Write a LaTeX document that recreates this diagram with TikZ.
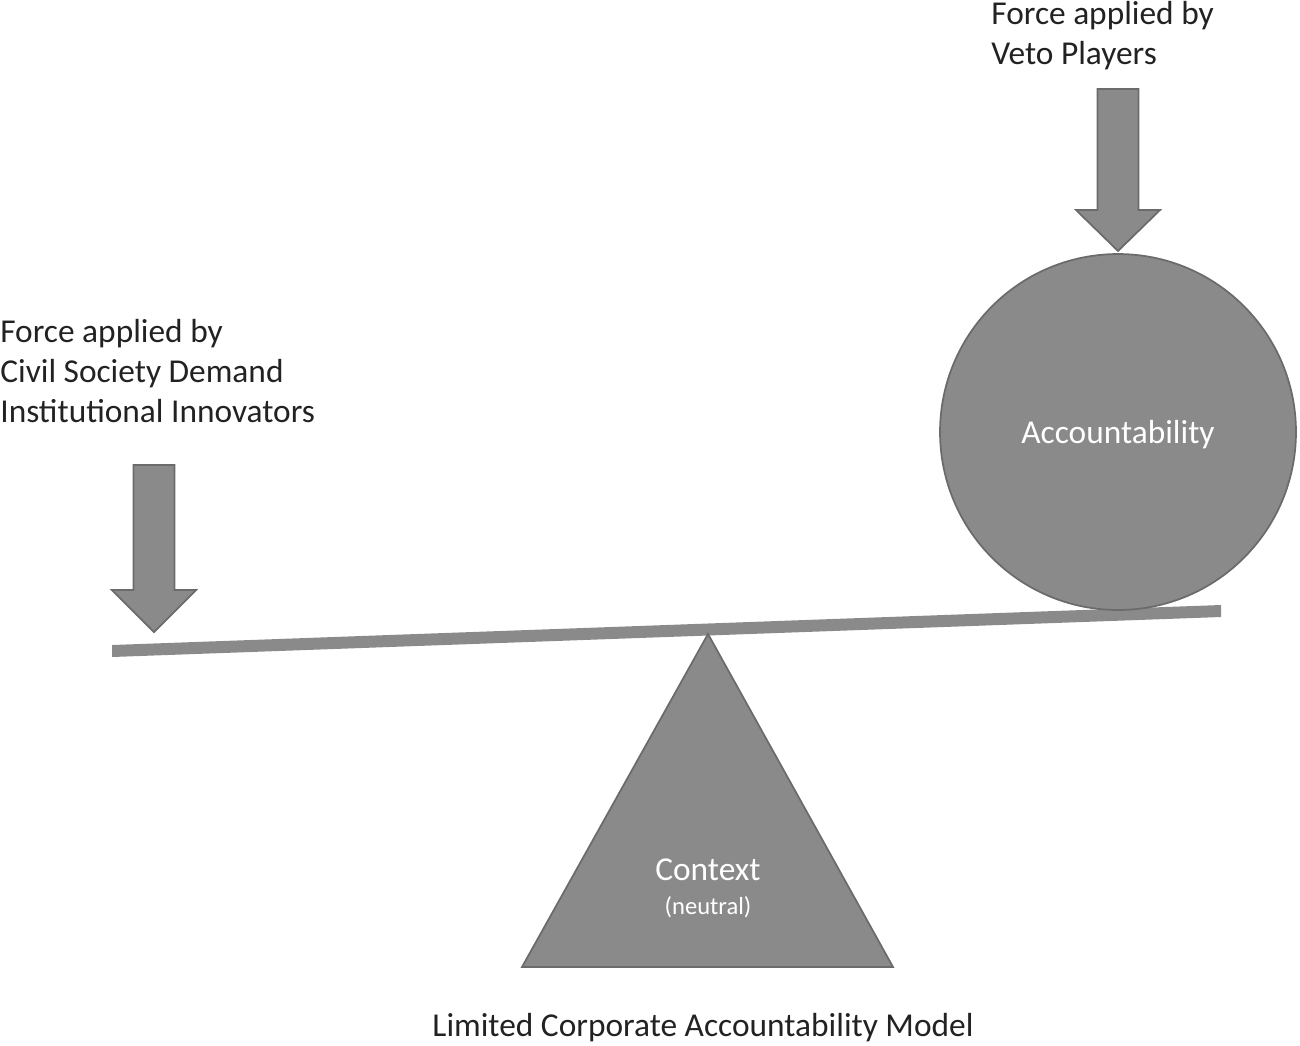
\documentclass[tikz,border=0pt]{standalone}
\usepackage{fontspec}
\setmainfont{Carlito}
\usetikzlibrary{positioning,calc}
\definecolor{seesaw}{HTML}{8A8A8A}
\definecolor{seesawline}{HTML}{6B6B6B}
\definecolor{labeltext}{HTML}{222222}
\tikzset{
  part/.style={fill=seesaw, draw=seesawline, line width=1pt, line join=miter},
  label/.style={text=labeltext, inner sep=0pt, align=left, font=\fontsize{19}{22.7}\selectfont},
  inlabel/.style={text=white, inner sep=0pt, font=\fontsize{19}{22.7}\selectfont},
}
\begin{document}
\begin{tikzpicture}[x=0.02cm, y=-0.02cm]
    \useasboundingbox (0,0) rectangle (1300,1045);
    % beam and pivot
    \fill[seesaw] (112,645) -- (1221,605) -- (1221,617) -- (112,657) -- cycle;
    \coordinate (pivot) at (708,634);
    \draw[part] (pivot) -- (893,967) -- (522,967) -- cycle;
    \node[part, circle, minimum size=7.12cm, inner sep=0pt] (ball) at (1118,432) {};
    % the two forces
    \foreach \ax/\atop/\ahead/\atip in {1118/89/210/251, 154/465/590/632} {
        \draw[part] (\ax-20.5,\atop) -- (\ax+20.5,\atop) -- (\ax+20.5,\ahead)
            -- (\ax+42,\ahead) -- (\ax,\atip) -- (\ax-42,\ahead)
            -- (\ax-20.5,\ahead) -- cycle;
    }
    % texts
    \node[label, anchor=base west] (veto) at (991,64) {Force applied by\\Veto Players};
    \node[label, anchor=base west] (civil) at (0,422) {Force applied by\\Civil Society Demand\\Institutional Innovators};
    \node[inlabel, anchor=base] (acc) at (1118,443) {Accountability};
    \node[inlabel, anchor=base] (ctx) at (708,880) {Context};
    \node[text=white, inner sep=0pt, anchor=base, font=\fontsize{14}{16}\selectfont] (neutral) at (708,914) {(neutral)};
    \node[label, anchor=base] (model) at (703,1036) {Limited Corporate Accountability Model};
\end{tikzpicture}
\end{document}
